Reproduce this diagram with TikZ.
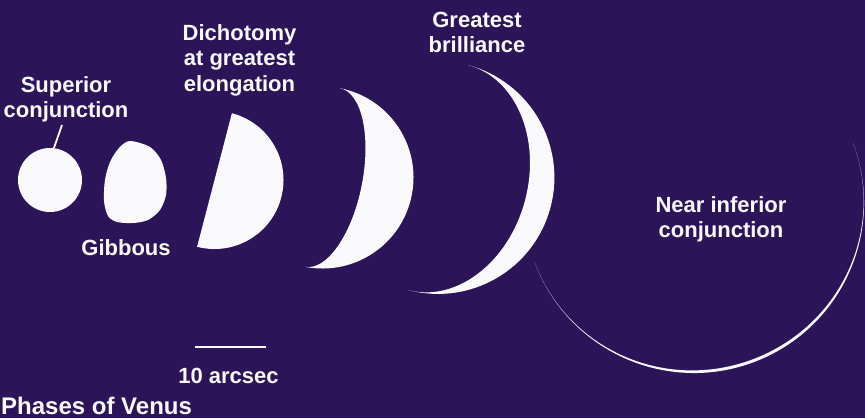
\documentclass[tikz,border=0pt]{standalone}
\usepackage{fontspec}
\setmainfont{Liberation Sans}
\definecolor{nightsky}{RGB}{43,20,88}
\definecolor{glow}{RGB}{250,250,252}
% lit part of a phase: centre (#1,#2), radius #3, tilt #4, terminator half-width #5
\newcommand\venusphase[5]{%
  \fill[lit,shift={(#1,#2)},rotate=#4] (0,-#3)
    arc[start angle=-90,end angle=90,radius=#3]
    arc[start angle=90,end angle=-90,x radius=#5,y radius=#3] -- cycle;}
\begin{document}
\begin{tikzpicture}[x=1pt,y=-1pt,
  lit/.style={fill=glow},
  lbl/.style={text=glow,font=\fontsize{22}{25.5}\selectfont\bfseries,
    align=center,inner sep=0pt,anchor=base},
  rule/.style={draw=glow,line width=2pt}]
\fill[nightsky] (0,0) rectangle (865,418);
\useasboundingbox (0,0) rectangle (865,418);

% superior conjunction: full disk
\node[circle,fill=glow,minimum size=64pt,inner sep=0pt] (sup) at (50,180) {};
\node[lbl] (suplabel) at (66,117.5) {Superior\\conjunction};
\coordinate (suptip) at (62,125);
\draw[glow,line width=1.8pt] (sup.83) -- (suptip);

% gibbous
\fill[lit] plot[smooth cycle] coordinates {
  (130,141) (150,147) (161,160) (166,178) (166,195) (160,210)
  (148,220) (133,223) (117,222) (108,216) (104,201) (105,180)
  (110,162) (119,148)};
\node[lbl] (gibbous) at (126,255) {Gibbous};

% dichotomy, crescents, near inferior conjunction
\venusphase{214.5}{180}{69}{-14.6}{0.01}
\node[lbl] (dicho) at (239.5,91) {Dichotomy\\at greatest\\elongation};
\venusphase{322.5}{177.5}{91}{-11.1}{40}
\venusphase{438}{177.5}{116.4}{-14.9}{90}
\node[lbl] (brill) at (477,52.5) {Greatest\\brilliance};
\venusphase{694}{203}{170}{-69.4}{167}
\node[lbl] (infer) at (721,237.5) {Near inferior\\conjunction};

% scale bar
\coordinate (barL) at (195,347);
\coordinate (barR) at (266,347);
\draw[rule] (barL) -- (barR);
\node[lbl] (scale) at (228.5,383) {10 arcsec};

\node[lbl,anchor=base west,font=\fontsize{24}{28}\selectfont\bfseries]
  (title) at (1,414) {Phases of Venus};
\end{tikzpicture}
\end{document}
